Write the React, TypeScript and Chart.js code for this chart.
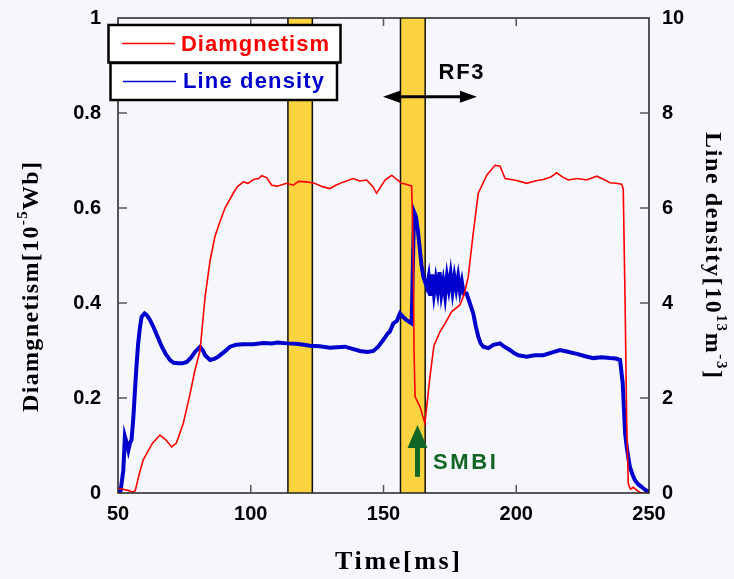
import React, { useEffect, useRef } from "react";
import { Chart, registerables } from "chart.js";

Chart.register(...registerables);

// ---- Data ----
const diamT = [50, 52, 54, 55.5, 56.5, 58, 59.5, 61, 63, 65.8, 68, 70.2, 72, 74.6, 77, 79, 80.9, 82.8, 84.7, 86.5, 88.4, 90.3, 93.4, 95, 97.2, 99, 101, 103, 104.1, 106, 107.9, 110, 113.5, 116, 118, 121.1, 124, 127, 129.8, 132, 135, 138.6, 141, 143.7, 146, 147.4, 149, 150.6, 153.1, 155, 156.8, 158.5, 160.6, 161.2, 161.5, 161.9, 163.7, 165.6, 167.5, 169, 171.3, 173.5, 175.7, 178.8, 180.5, 181.9, 183.8, 185.7, 188.9, 192, 193.9, 195.8, 198, 200.2, 203.9, 207, 210.2, 213, 215.2, 217.5, 219.6, 223, 226.5, 230.3, 233, 235.3, 237.5, 239.7, 240.3, 241, 241.6, 242.2, 243, 244.1, 245.5, 247, 250];
const diamV = [0.010, 0.008, 0.005, 0.002, 0.005, 0.04, 0.07, 0.085, 0.105, 0.122, 0.112, 0.097, 0.105, 0.147, 0.205, 0.259, 0.30, 0.413, 0.49, 0.54, 0.571, 0.60, 0.631, 0.645, 0.655, 0.652, 0.660, 0.662, 0.668, 0.664, 0.648, 0.646, 0.652, 0.648, 0.656, 0.655, 0.652, 0.645, 0.641, 0.648, 0.655, 0.662, 0.657, 0.659, 0.645, 0.631, 0.645, 0.659, 0.669, 0.660, 0.652, 0.650, 0.646, 0.51, 0.30, 0.203, 0.182, 0.147, 0.245, 0.31, 0.34, 0.36, 0.382, 0.396, 0.42, 0.455, 0.547, 0.631, 0.669, 0.690, 0.688, 0.662, 0.660, 0.658, 0.652, 0.657, 0.66, 0.665, 0.674, 0.665, 0.659, 0.662, 0.659, 0.667, 0.66, 0.653, 0.652, 0.65, 0.64, 0.40, 0.15, 0.02, 0.008, 0.012, 0.005, 0.0, 0.0];

const densT = [50, 51, 52, 52.6, 53.3, 53.9, 54.5, 55.1, 55.8, 56.4, 57, 57.6, 58.3, 58.9, 60, 60.8, 62, 63.3, 65, 66.5, 68, 69.6, 71, 72.7, 74.3, 75.9, 77.5, 79, 80.9, 82, 82.8, 84.7, 86.5, 87.8, 90, 92.2, 94.5, 97.2, 101, 104.7, 108, 110, 113.5, 117, 120, 122.3, 126, 129.8, 132.5, 135.5, 138, 141.1, 144, 146.2, 148, 149.9, 151.5, 152.4, 153.7, 155, 156.2, 157.5, 158.7, 160.6, 161.5, 162.2, 163, 163.7, 164.3, 165, 166.3, 167, 167.6, 168.3, 169, 169.7, 170.4, 171.1, 171.8, 172.5, 173.2, 173.9, 174.6, 175.3, 176, 176.7, 177.4, 178.1, 178.8, 179.5, 180.2, 181.3, 182.5, 183.8, 184.8, 185.7, 186.6, 187.6, 189.5, 191.4, 193.9, 195.5, 197.6, 199, 200.8, 203.9, 207, 210.2, 213, 216.5, 219, 222.8, 226, 229, 232, 235.3, 237.5, 239.1, 240.1, 241, 241.6, 242.2, 242.8, 243.7, 244.7, 246, 247.2, 248.5, 249.7, 250];
const densV = [0.0, 0.05, 0.48, 1.19, 1.05, 0.9, 1.05, 1.12, 1.6, 2.17, 2.7, 3.15, 3.5, 3.71, 3.78, 3.75, 3.65, 3.5, 3.28, 3.08, 2.92, 2.8, 2.74, 2.73, 2.73, 2.76, 2.85, 2.97, 3.08, 3.0, 2.9, 2.8, 2.83, 2.87, 2.97, 3.08, 3.12, 3.13, 3.13, 3.16, 3.15, 3.17, 3.15, 3.14, 3.12, 3.10, 3.09, 3.06, 3.07, 3.08, 3.04, 2.99, 2.97, 2.99, 3.08, 3.22, 3.35, 3.40, 3.57, 3.62, 3.78, 3.7, 3.64, 3.57, 5.92, 5.82, 5.5, 5.12, 4.8, 4.55, 4.34, 4.55, 4.15, 4.6, 4.2, 4.5, 4.25, 4.65, 4.2, 4.45, 4.15, 4.55, 4.3, 4.6, 4.25, 4.55, 4.3, 4.55, 4.25, 4.45, 4.2, 4.2, 4.0, 3.78, 3.5, 3.29, 3.15, 3.08, 3.05, 3.12, 3.15, 3.08, 3.01, 2.95, 2.90, 2.87, 2.9, 2.9, 2.95, 3.01, 2.98, 2.93, 2.88, 2.84, 2.86, 2.84, 2.83, 2.8, 2.31, 1.26, 0.97, 0.75, 0.55, 0.4, 0.27, 0.18, 0.13, 0.07, 0.03, 0.0];

const seriesNames = ["Diamgnetism", "Line density"];
const xTickValues = [100, 150, 200];
const leftTickValues = [0.2, 0.4, 0.6, 0.8];
const bands = [
  [114, 123.2],
  [156.4, 165.7],
];
const rf3 = { from: 149.8, to: 185.2, y: 0.834, label: "RF3", labelX: 179.2, labelY: 0.884 };
const smbi = { x: 162.8, yFrom: 0.034, yTo: 0.143, label: "SMBI", labelX: 180.5, labelY: 0.063 };

const BG = "#f5f7fd";
const RED = "#ff0000";
const BLUE = "#0000cc";
const GREEN = "#116625";
const GOLD = "#fdd43f";

type Seg = { t: string; sup?: boolean };

// anchor: 0 = centered on (cx,cy); 1 = text starts at (cx,cy)
function drawFitText(ctx: CanvasRenderingContext2D, segs: Seg[], cx: number, cy: number, angle: number, target: number, size: number, family: string, color: string, maxLs = 8, anchorStart = false) {
  ctx.save();
  ctx.translate(cx, cy);
  ctx.rotate(angle);
  ctx.fillStyle = color;
  ctx.textBaseline = "middle";
  ctx.textAlign = "left";
  (ctx as any).letterSpacing = "0px";
  const fontFor = (s: Seg) => `bold ${s.sup ? Math.round(size * 0.62) : size}px ${family}`;
  let W = 0;
  let N = 0;
  const widths = segs.map((s) => {
    ctx.font = fontFor(s);
    const w = ctx.measureText(s.t).width;
    W += w;
    N += s.t.length;
    return w;
  });
  let ls = N > 1 ? (target - W) / (N - 1) : 0;
  ls = Math.max(-1.5, Math.min(maxLs, ls));
  const total = W + ls * (N - 1);
  let x = anchorStart ? 0 : -total / 2;
  segs.forEach((s, i) => {
    ctx.font = fontFor(s);
    (ctx as any).letterSpacing = `${ls}px`;
    ctx.fillText(s.t, x, s.sup ? -size * 0.38 : 0);
    x += widths[i] + ls * s.t.length;
  });
  ctx.restore();
}

const decorPlugin = {
  id: "decor",
  beforeDraw(chart: any) {
    const ctx = chart.ctx;
    ctx.save();
    ctx.fillStyle = BG;
    ctx.fillRect(0, 0, chart.width, chart.height);
    ctx.restore();
  },
  beforeDatasetsDraw(chart: any) {
    const ctx = chart.ctx;
    const { top, bottom } = chart.chartArea;
    const xs = chart.scales.x;
    ctx.save();
    bands.forEach(([a, b]) => {
      const x1 = xs.getPixelForValue(a);
      const x2 = xs.getPixelForValue(b);
      ctx.fillStyle = GOLD;
      ctx.fillRect(x1, top, x2 - x1, bottom - top);
      ctx.strokeStyle = "#111";
      ctx.lineWidth = 1.5;
      ctx.beginPath();
      ctx.moveTo(x1, top);
      ctx.lineTo(x1, bottom);
      ctx.moveTo(x2, top);
      ctx.lineTo(x2, bottom);
      ctx.stroke();
    });
    ctx.restore();
  },
  afterDatasetsDraw(chart: any) {
    const ctx = chart.ctx;
    const { left, right, top, bottom } = chart.chartArea;
    const xs = chart.scales.x;
    const ys = chart.scales.y;
    ctx.save();
    // frame
    ctx.strokeStyle = "#222";
    ctx.lineWidth = 1.5;
    ctx.strokeRect(left, top, right - left, bottom - top);
    // inward ticks
    ctx.strokeStyle = "#555";
    ctx.lineWidth = 1.5;
    ctx.beginPath();
    xTickValues.forEach((v) => {
      const px = xs.getPixelForValue(v);
      ctx.moveTo(px, bottom);
      ctx.lineTo(px, bottom - 8);
      ctx.moveTo(px, top);
      ctx.lineTo(px, top + 8);
    });
    leftTickValues.forEach((v) => {
      const py = ys.getPixelForValue(v);
      ctx.moveTo(left, py);
      ctx.lineTo(left + 9, py);
      ctx.moveTo(right, py);
      ctx.lineTo(right - 9, py);
    });
    ctx.stroke();

    // RF3 double arrow
    const ax1 = xs.getPixelForValue(rf3.from);
    const ax2 = xs.getPixelForValue(rf3.to);
    const ay = ys.getPixelForValue(rf3.y);
    ctx.strokeStyle = "#000";
    ctx.fillStyle = "#000";
    ctx.lineWidth = 3;
    ctx.beginPath();
    ctx.moveTo(ax1 + 10, ay);
    ctx.lineTo(ax2 - 10, ay);
    ctx.stroke();
    ctx.beginPath();
    ctx.moveTo(ax1, ay);
    ctx.lineTo(ax1 + 17, ay - 6);
    ctx.lineTo(ax1 + 17, ay + 6);
    ctx.closePath();
    ctx.fill();
    ctx.beginPath();
    ctx.moveTo(ax2, ay);
    ctx.lineTo(ax2 - 17, ay - 6);
    ctx.lineTo(ax2 - 17, ay + 6);
    ctx.closePath();
    ctx.fill();
    drawFitText(ctx, [{ t: rf3.label }], xs.getPixelForValue(rf3.labelX), ys.getPixelForValue(rf3.labelY), 0, 45, 22, "'Liberation Sans', Arial, sans-serif", "#000");

    // SMBI arrow
    const sx = xs.getPixelForValue(smbi.x);
    const sy1 = ys.getPixelForValue(smbi.yFrom);
    const sy2 = ys.getPixelForValue(smbi.yTo);
    ctx.fillStyle = GREEN;
    ctx.fillRect(sx - 2.5, sy2 + 20, 5, sy1 - sy2 - 20);
    ctx.beginPath();
    ctx.moveTo(sx, sy2);
    ctx.lineTo(sx - 10, sy2 + 23);
    ctx.lineTo(sx + 10, sy2 + 23);
    ctx.closePath();
    ctx.fill();
    drawFitText(ctx, [{ t: smbi.label }], xs.getPixelForValue(smbi.labelX), ys.getPixelForValue(smbi.labelY), 0, 63, 22, "'Liberation Sans', Arial, sans-serif", GREEN);

    // legend boxes
    const boxes = [
      { x: 108.5, y: 25, w: 232, h: 37.5, color: RED, name: seriesNames[0], lx1: 122, lx2: 175, ly: 43.5, tx: 255, tw: 148, ty: 45 },
      { x: 110.5, y: 63, w: 226.5, h: 37, color: BLUE, name: seriesNames[1], lx1: 123, lx2: 176, ly: 81.5, tx: 253.5, tw: 141, ty: 82 },
    ];
    boxes.forEach((b) => {
      ctx.fillStyle = "#fff";
      ctx.fillRect(b.x, b.y, b.w, b.h);
      ctx.strokeStyle = "#000";
      ctx.lineWidth = 2.5;
      ctx.strokeRect(b.x, b.y, b.w, b.h);
      ctx.strokeStyle = b.color;
      ctx.lineWidth = 1.3;
      ctx.beginPath();
      ctx.moveTo(b.lx1, b.ly);
      ctx.lineTo(b.lx2, b.ly);
      ctx.stroke();
      drawFitText(ctx, [{ t: b.name }], b.tx, b.ty, 0, b.tw, 22, "'Liberation Sans', Arial, sans-serif", b.color);
    });

    // axis titles
    const serif = "'Liberation Serif', 'Times New Roman', serif";
    drawFitText(ctx, [{ t: "Time[ms]" }], 397.5, 562, 0, 125, 26, serif, "#000", 3);
    drawFitText(ctx, [{ t: "Diamgnetism[10" }, { t: "-5", sup: true }, { t: "Wb]" }], 32, 412, -Math.PI / 2, 250, 24, serif, "#000", 2, true);
    drawFitText(ctx, [{ t: "Line density[10" }, { t: "13", sup: true }, { t: "m" }, { t: "-3", sup: true }, { t: "]" }], 712, 132, Math.PI / 2, 246, 24, serif, "#000", 2, true);
    ctx.restore();
  },
};

const fmtTick = (v: any) => String(Number(Number(v).toFixed(1)));

export default function App() {
  const ref = useRef<HTMLCanvasElement | null>(null);
  useEffect(() => {
    if (!ref.current) return;
    const tickFont = { family: "'Liberation Sans', Arial, sans-serif", size: 20, weight: "bold" as const };
    const chart = new Chart(ref.current, {
      type: "line",
      data: {
        datasets: [
          {
            label: seriesNames[0],
            data: diamT.map((t, i) => ({ x: t, y: diamV[i] })),
            borderColor: RED,
            borderWidth: 1.6,
            pointRadius: 0,
            tension: 0,
            yAxisID: "y",
          },
          {
            label: seriesNames[1],
            data: densT.map((t, i) => ({ x: t, y: densV[i] })),
            borderColor: BLUE,
            borderWidth: 4,
            pointRadius: 0,
            tension: 0,
            yAxisID: "y2",
          },
        ],
      },
      options: {
        animation: false,
        responsive: false,
        devicePixelRatio: 1,
        layout: { padding: { top: 18, left: 0, right: 0, bottom: 0 } },
        plugins: { legend: { display: false }, tooltip: { enabled: false } },
        scales: {
          x: {
            type: "linear",
            min: 50,
            max: 250,
            ticks: { stepSize: 50, padding: 9, color: "#000", font: tickFont, maxRotation: 0, callback: fmtTick },
            grid: { display: false, drawTicks: false },
            border: { display: false },
            afterFit: (s: any) => {
              s.height = 86;
              s.paddingLeft = 0;
              s.paddingRight = 0;
            },
          },
          y: {
            type: "linear",
            position: "left",
            min: 0,
            max: 1,
            ticks: { stepSize: 0.2, padding: 17, color: "#000", font: tickFont, callback: fmtTick },
            grid: { display: false, drawTicks: false },
            border: { display: false },
            afterFit: (s: any) => {
              s.width = 118;
              s.paddingTop = 0;
              s.paddingBottom = 0;
            },
          },
          y2: {
            type: "linear",
            position: "right",
            min: 0,
            max: 10,
            ticks: { stepSize: 2, padding: 13, color: "#000", font: tickFont, callback: fmtTick },
            grid: { display: false, drawTicks: false },
            border: { display: false },
            afterFit: (s: any) => {
              s.width = 85;
              s.paddingTop = 0;
              s.paddingBottom = 0;
            },
          },
        },
      },
      plugins: [decorPlugin],
    });
    return () => chart.destroy();
  }, []);
  return (
    <div style={{ position: "absolute", left: 0, top: 0, width: 734, height: 579, background: BG }}>
      <canvas ref={ref} width={734} height={579} style={{ display: "block", width: 734, height: 579 }} />
    </div>
  );
}
